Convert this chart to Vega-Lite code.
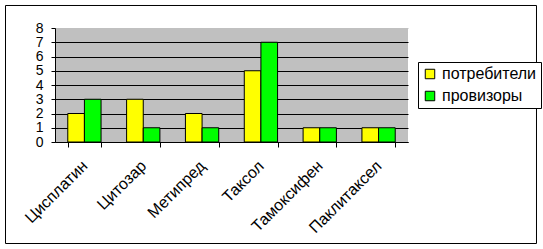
{
  "$schema": "https://vega.github.io/schema/vega-lite/v6.json",
  "width": 353,
  "height": 114,
  "autosize": {"type": "none"},
  "padding": {"left": 55, "top": 28, "right": 135, "bottom": 107},
  "background": "white",
  "config": {
    "view": {"fill": "#c0c0c0", "stroke": null},
    "font": "Liberation Sans"
  },
  "layer": [
    {
      "data": {
        "values": [
          {"drug": "Цисплатин", "group": "потребители", "value": 2},
          {"drug": "Цисплатин", "group": "провизоры", "value": 3},
          {"drug": "Цитозар", "group": "потребители", "value": 3},
          {"drug": "Цитозар", "group": "провизоры", "value": 1},
          {"drug": "Метипред", "group": "потребители", "value": 2},
          {"drug": "Метипред", "group": "провизоры", "value": 1},
          {"drug": "Таксол", "group": "потребители", "value": 5},
          {"drug": "Таксол", "group": "провизоры", "value": 7},
          {"drug": "Тамоксифен", "group": "потребители", "value": 1},
          {"drug": "Тамоксифен", "group": "провизоры", "value": 1},
          {"drug": "Паклитаксел", "group": "потребители", "value": 1},
          {"drug": "Паклитаксел", "group": "провизоры", "value": 1}
        ]
      },
      "mark": {"type": "bar", "stroke": "black", "strokeWidth": 1},
      "encoding": {
        "x": {
          "field": "drug",
          "type": "nominal",
          "sort": ["Цисплатин", "Цитозар", "Метипред", "Таксол", "Тамоксифен", "Паклитаксел"],
          "scale": {"paddingInner": 0.434, "paddingOuter": 0.217},
          "axis": {
            "title": null,
            "labelAngle": -45,
            "labelAlign": "right",
            "labelBaseline": "middle",
            "labelPadding": 16,
            "tickBand": "extent",
            "tickSize": 5,
            "domainColor": "black",
            "tickColor": "black",
            "labelColor": "black",
            "labelFontSize": 16,
            "labelFont": "Liberation Sans",
            "grid": false
          }
        },
        "xOffset": {
          "field": "group",
          "type": "nominal",
          "sort": ["потребители", "провизоры"],
          "scale": {"paddingInner": 0, "paddingOuter": 0}
        },
        "y": {
          "field": "value",
          "type": "quantitative",
          "scale": {"domain": [0, 8], "nice": false},
          "axis": {
            "title": null,
            "values": [0, 1, 2, 3, 4, 5, 6, 7, 8],
            "grid": true,
            "gridColor": {"condition": {"test": "datum.value == 8", "value": "#c0c0c0"}, "value": "black"},
            "gridOpacity": 1,
            "tickSize": 4,
            "labelPadding": 8,
            "labelOverlap": false,
            "labelFontSize": 14,
            "labelFont": "Liberation Sans",
            "labelColor": "black",
            "domainColor": "black",
            "tickColor": "black"
          }
        },
        "color": {
          "field": "group",
          "type": "nominal",
          "scale": {"domain": ["потребители", "провизоры"], "range": ["#ffff00", "#00ff00"]},
          "legend": {
            "orient": "none",
            "legendX": 363,
            "legendY": 34,
            "title": null,
            "strokeColor": "black",
            "fillColor": "white",
            "padding": 4,
            "symbolType": "square",
            "symbolSize": 90,
            "symbolStrokeColor": "black",
            "symbolStrokeWidth": 1,
            "labelFontSize": 16,
            "labelFont": "Liberation Sans",
            "labelColor": "black",
            "rowPadding": 6
          }
        }
      }
    },
    {
      "data": {"values": [{}]},
      "mark": {"type": "rect", "fill": null, "stroke": "black", "strokeWidth": 1, "clip": false},
      "encoding": {
        "x": {"datum": -0.1402, "type": "quantitative", "scale": {"domain": [0, 1], "nice": false, "zero": false}, "axis": null},
        "x2": {"datum": 1.364},
        "y": {"datum": 9.579, "type": "quantitative", "scale": {"domain": [0, 8], "nice": false, "zero": false}, "axis": null},
        "y2": {"datum": -7.123}
      }
    }
  ],
  "resolve": {"scale": {"x": "independent", "y": "independent"}}
}
